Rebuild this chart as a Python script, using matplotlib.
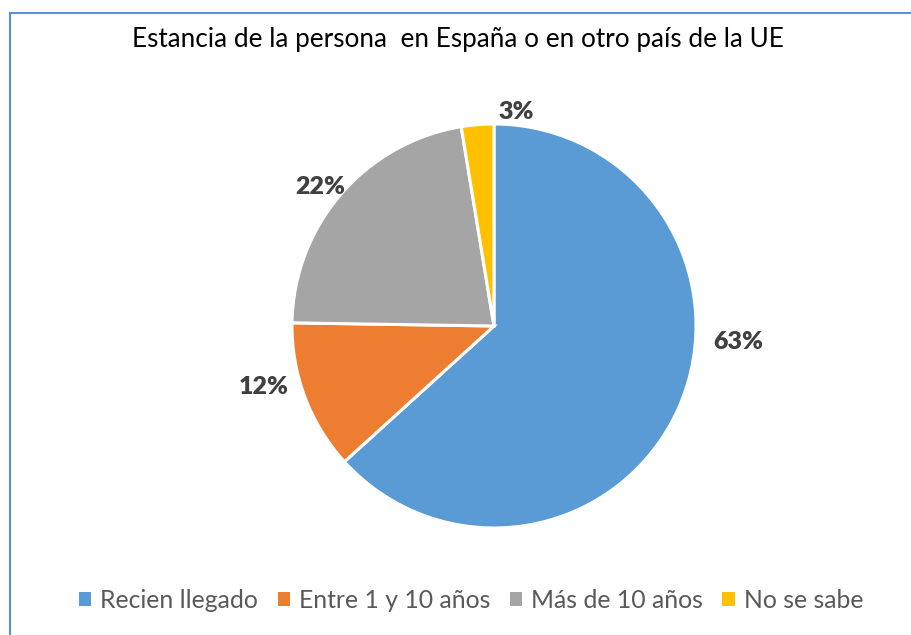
import matplotlib
matplotlib.use("Agg")
import matplotlib.pyplot as plt
from matplotlib.lines import Line2D
from matplotlib.patches import Patch

plt.rcParams["font.family"] = ["Lato", "DejaVu Sans"]

categorias = ["Recien llegado", "Entre 1 y 10 años", "Más de 10 años", "No se sabe"]
porcentajes = [63.4, 12.0, 22.2, 2.6]
colores = ["#5B9BD5", "#ED7D31", "#A5A5A5", "#FFC000"]
# posiciones de las etiquetas (en radios, relativas al centro)
pos_etiquetas = [(1.21, -0.08), (-1.14, -0.30), (-0.86, 0.69), (0.11, 1.06)]

W, H = 912, 635
fig = plt.figure(figsize=(W / 100, H / 100), dpi=100)

# marco del gráfico
fig.add_artist(Line2D([10 / W, 10 / W], [0, 1 - 13 / H], color="#5B8FD9", lw=1.5))
fig.add_artist(Line2D([10 / W, 1], [1 - 13 / H, 1 - 13 / H], color="#5B8FD9", lw=1.5))

cx, cy, r = 494, 326, 202
ax = fig.add_axes([(cx - r) / W, (H - cy - r) / H, 2 * r / W, 2 * r / H])
ax.pie(porcentajes, colors=colores, startangle=90, counterclock=False,
       wedgeprops=dict(edgecolor="white", linewidth=2.2))
ax.set_xlim(-1, 1); ax.set_ylim(-1, 1)
ax.set_aspect("equal")
for v, (x, y) in zip(porcentajes, pos_etiquetas):
    ax.text(x, y, f"{round(v)}%", ha="center", va="center", fontsize=18,
            fontweight="heavy", color="#404040", clip_on=False)

fig.text(458 / W, 1 - 40 / H, "Estancia de la persona  en España o en otro país de la UE",
         ha="center", va="center", fontsize=18.8, color="black")

handles = [Patch(facecolor=c, edgecolor="none") for c in colores]
fig.legend(handles, categorias, loc="center", bbox_to_anchor=(471 / W, 1 - 600 / H),
           ncol=4, frameon=False, fontsize=17.8, labelcolor="#595959",
           handlelength=0.5, handleheight=0.5, handletextpad=0.35, columnspacing=0.8)

fig.savefig("out.png", dpi=100)
